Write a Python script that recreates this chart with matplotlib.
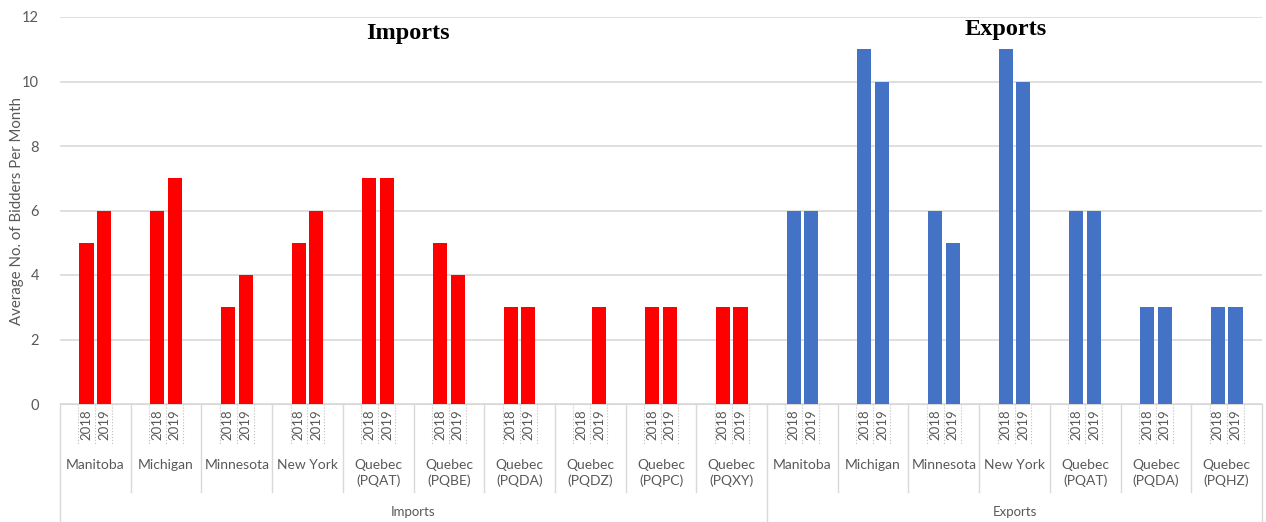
#!/usr/bin/env python3
# Average number of bidders per month, imports vs exports, 2018 and 2019
import matplotlib.pyplot as plt

plt.rcParams['font.family'] = ['Lato', 'DejaVu Sans']

import_regions = ["Manitoba", "Michigan", "Minnesota", "New York", "Quebec\n(PQAT)",
                  "Quebec\n(PQBE)", "Quebec\n(PQDA)", "Quebec\n(PQDZ)", "Quebec\n(PQPC)",
                  "Quebec\n(PQXY)"]
import_2018 = [5, 6, 3, 5, 7, 5, 3, 0, 3, 3]
import_2019 = [6, 7, 4, 6, 7, 4, 3, 3, 3, 3]

export_regions = ["Manitoba", "Michigan", "Minnesota", "New York", "Quebec\n(PQAT)",
                  "Quebec\n(PQDA)", "Quebec\n(PQHZ)"]
export_2018 = [6, 11, 6, 11, 6, 3, 3]
export_2019 = [6, 10, 5, 10, 6, 3, 3]

years = ["2018", "2019"]
y_ticks = [0, 2, 4, 6, 8, 10, 12]

RED = "#FF0000"
BLUE = "#4472C4"
GREY = "#595959"
LINE = "#D9D9D9"


def main():
    fig = plt.figure(figsize=(12.66, 5.22), dpi=100)
    ax = fig.add_axes([60 / 1266, 1 - 404 / 522, 1202 / 1266, 387 / 522])

    n_imp = len(import_regions)
    n_exp = len(export_regions)
    n = n_imp + n_exp
    centers = [i + 0.5 for i in range(n)]
    off, width = 0.125, 0.2

    imp_c = centers[:n_imp]
    exp_c = centers[n_imp:]
    ax.bar([c - off for c in imp_c], import_2018, width, color=RED, zorder=3)
    ax.bar([c + off for c in imp_c], import_2019, width, color=RED, zorder=3)
    ax.bar([c - off for c in exp_c], export_2018, width, color=BLUE, zorder=3)
    ax.bar([c + off for c in exp_c], export_2019, width, color=BLUE, zorder=3)

    ax.set_xlim(0, n)
    ax.set_ylim(0, 12)
    ax.set_yticks(y_ticks)
    ax.tick_params(axis='y', length=0, labelsize=10.5, labelcolor=GREY, pad=15)
    ax.set_xticks([])
    ax.grid(axis='y', color=LINE, linewidth=1.2, zorder=0)
    for side in ('top', 'right', 'left'):
        ax.spines[side].set_visible(False)
    ax.spines['bottom'].set_color(LINE)
    # y label placed by hand so it sits where the original has it
    fig.text(17 / 1266, 1 - 211 / 522, "Average No. of Bidders Per Month", rotation=90,
             ha='center', va='center', color=GREY, fontsize=10.8)

    tr = ax.get_xaxis_transform()
    px = 1 / 387  # one pixel in axes fraction (vertical)

    # year labels and dotted boxes round them
    for c in centers:
        for k, yr in enumerate(years):
            x = c - off if k == 0 else c + off
            ax.text(x, -21 * px, yr, rotation=90, ha='center', va='center',
                    fontsize=9.5, color=GREY, transform=tr, clip_on=False)
        for dx in (-0.24, 0, 0.24):
            ax.plot([c + dx, c + dx], [0, -41 * px], transform=tr, clip_on=False,
                    color="#BFBFBF", linestyle=':', linewidth=0.8)

    # region labels
    regions = import_regions + export_regions
    for c, name in zip(centers, regions):
        ax.text(c, -55 * px, name, ha='center', va='top', fontsize=10,
                color=GREY, transform=tr, clip_on=False, linespacing=1.3)

    # separators between regions
    for i in range(n + 1):
        bottom = -118 * px if i in (0, n_imp, n) else -88 * px
        ax.plot([i, i], [0, bottom], transform=tr, clip_on=False,
                color=LINE, linewidth=1)

    # group labels
    ax.text(n_imp / 2, -108 * px, "Imports", ha='center', va='center', fontsize=9.5,
            color=GREY, transform=tr, clip_on=False)
    ax.text(n_imp + n_exp / 2, -108 * px, "Exports", ha='center', va='center', fontsize=9.5,
            color=GREY, transform=tr, clip_on=False)

    # titles
    ax.text(4.92, 11.5, "Imports", ha='center', va='center', fontsize=17.5,
            fontweight='bold', family='Liberation Serif', color='black', zorder=5)
    ax.text(13.37, 11.6, "Exports", ha='center', va='center', fontsize=17.5,
            fontweight='bold', family='Liberation Serif', color='black', zorder=5)

    fig.savefig("out.png", dpi=100, facecolor='white')


if __name__ == '__main__':
    main()
